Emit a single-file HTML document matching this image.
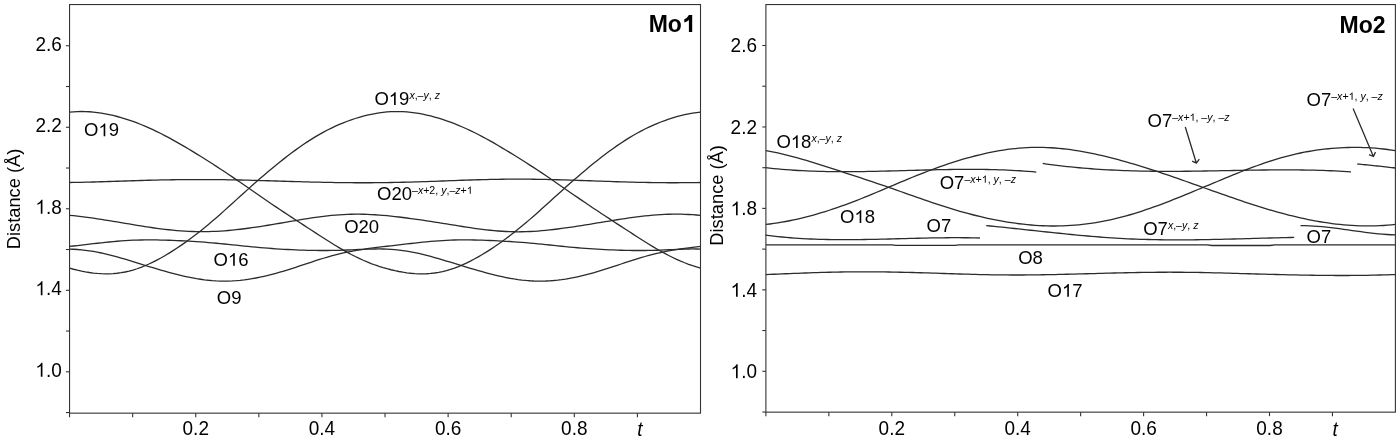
<!DOCTYPE html>
<html><head><meta charset="utf-8"><style>
html,body{margin:0;padding:0;background:#fff;width:1400px;height:440px;overflow:hidden}
svg{display:block;will-change:transform}
text{font-family:"Liberation Sans",sans-serif;fill:#000}
.tk{font-size:19px}
.lb{font-size:18.5px}
.sp{font-size:10.6px}
.ttl{font-size:23px;font-weight:bold}
.ax{font-size:18.3px}
.one{fill-opacity:0}
</style></head><body>
<svg width="1400" height="440" viewBox="0 0 1400 440">
<rect width="1400" height="440" fill="#fff"/>
<g fill="none" stroke="#2b2b2b" stroke-width="1.3" stroke-linejoin="round" stroke-linecap="butt">
<path d="M69.55 112.14 L73.52 111.80 L77.49 111.60 L81.45 111.52 L85.42 111.58 L89.39 111.77 L93.36 112.09 L97.33 112.54 L101.30 113.10 L105.26 113.79 L109.23 114.59 L113.20 115.49 L117.17 116.50 L121.14 117.61 L125.11 118.81 L129.07 120.10 L133.04 121.48 L137.01 122.95 L140.98 124.50 L144.95 126.14 L148.91 127.87 L152.88 129.68 L156.85 131.56 L160.82 133.53 L164.79 135.56 L168.76 137.67 L172.72 139.83 L176.69 142.06 L180.66 144.33 L184.63 146.65 L188.60 149.01 L192.57 151.40 L196.53 153.83 L200.50 156.29 L204.47 158.77 L208.44 161.28 L212.41 163.81 L216.37 166.37 L220.34 168.96 L224.31 171.58 L228.28 174.22 L232.25 176.89 L236.22 179.59 L240.18 182.30 L244.15 185.04 L248.12 187.78 L252.09 190.53 L256.06 193.28 L260.03 196.03 L263.99 198.76 L267.96 201.48 L271.93 204.18 L275.90 206.85 L279.87 209.51 L283.83 212.14 L287.80 214.76 L291.77 217.36 L295.74 219.96 L299.71 222.54 L303.68 225.13 L307.64 227.71 L311.61 230.29 L315.58 232.86 L319.55 235.43 L323.52 237.97 L327.49 240.50 L331.45 242.99 L335.42 245.43 L339.39 247.82 L343.36 250.13 L347.33 252.36 L351.29 254.50 L355.26 256.53 L359.23 258.45 L363.20 260.26 L367.17 261.95 L371.14 263.53 L375.10 264.99 L379.07 266.34 L383.04 267.58 L387.01 268.72 L390.98 269.75 L394.95 270.67 L398.91 271.49 L402.88 272.20 L406.85 272.79 L410.82 273.26 L414.79 273.60 L418.76 273.80 L422.72 273.85 L426.69 273.74 L430.66 273.47 L434.63 273.01 L438.60 272.38 L442.56 271.57 L446.53 270.57 L450.50 269.40 L454.47 268.05 L458.44 266.54 L462.41 264.87 L466.37 263.06 L470.34 261.11 L474.31 259.03 L478.28 256.83 L482.25 254.53 L486.22 252.11 L490.18 249.60 L494.15 246.99 L498.12 244.28 L502.09 241.48 L506.06 238.58 L510.02 235.60 L513.99 232.52 L517.96 229.35 L521.93 226.10 L525.90 222.77 L529.87 219.37 L533.83 215.91 L537.80 212.40 L541.77 208.85 L545.74 205.27 L549.71 201.68 L553.68 198.08 L557.64 194.48 L561.61 190.90 L565.58 187.34 L569.55 183.82 L573.52 180.33 L577.48 176.89 L581.45 173.49 L585.42 170.14 L589.39 166.84 L593.36 163.60 L597.33 160.43 L601.29 157.32 L605.26 154.28 L609.23 151.32 L613.20 148.44 L617.17 145.65 L621.14 142.96 L625.10 140.36 L629.07 137.87 L633.04 135.49 L637.01 133.22 L640.98 131.07 L644.94 129.03 L648.91 127.10 L652.88 125.29 L656.85 123.59 L660.82 122.00 L664.79 120.52 L668.75 119.15 L672.72 117.88 L676.69 116.72 L680.66 115.67 L684.63 114.73 L688.60 113.90 L692.56 113.19 L696.53 112.60 L700.50 112.14"/>
<path d="M69.55 268.16 L73.52 269.25 L77.49 270.22 L81.45 271.09 L85.42 271.86 L89.39 272.51 L93.36 273.04 L97.33 273.45 L101.30 273.72 L105.26 273.85 L109.23 273.82 L113.20 273.63 L117.17 273.26 L121.14 272.72 L125.11 272.00 L129.07 271.09 L133.04 270.01 L137.01 268.75 L140.98 267.32 L144.95 265.73 L148.91 263.98 L152.88 262.10 L156.85 260.08 L160.82 257.95 L164.79 255.69 L168.76 253.33 L172.72 250.87 L176.69 248.31 L180.66 245.65 L184.63 242.89 L188.60 240.04 L192.57 237.10 L196.53 234.07 L200.50 230.94 L204.47 227.74 L208.44 224.45 L212.41 221.08 L216.37 217.65 L220.34 214.16 L224.31 210.63 L228.28 207.07 L232.25 203.48 L236.22 199.88 L240.18 196.28 L244.15 192.69 L248.12 189.12 L252.09 185.58 L256.06 182.07 L260.03 178.60 L263.99 175.18 L267.96 171.80 L271.93 168.48 L275.90 165.22 L279.87 162.01 L283.83 158.87 L287.80 155.79 L291.77 152.79 L295.74 149.87 L299.71 147.03 L303.68 144.29 L307.64 141.65 L311.61 139.10 L315.58 136.67 L319.55 134.34 L323.52 132.13 L327.49 130.03 L331.45 128.05 L335.42 126.18 L339.39 124.43 L343.36 122.78 L347.33 121.25 L351.29 119.82 L355.26 118.50 L359.23 117.29 L363.20 116.18 L367.17 115.19 L371.14 114.30 L375.10 113.53 L379.07 112.88 L383.04 112.36 L387.01 111.95 L390.98 111.68 L394.95 111.54 L398.91 111.54 L402.88 111.66 L406.85 111.91 L410.82 112.30 L414.79 112.81 L418.76 113.43 L422.72 114.17 L426.69 115.03 L430.66 115.98 L434.63 117.04 L438.60 118.19 L442.56 119.44 L446.53 120.78 L450.50 122.20 L454.47 123.72 L458.44 125.31 L462.41 127.00 L466.37 128.76 L470.34 130.61 L474.31 132.54 L478.28 134.54 L482.25 136.61 L486.22 138.74 L490.18 140.94 L494.15 143.19 L498.12 145.49 L502.09 147.83 L506.06 150.20 L510.02 152.61 L513.99 155.06 L517.96 157.52 L521.93 160.02 L525.90 162.54 L529.87 165.09 L533.83 167.66 L537.80 170.27 L541.77 172.90 L545.74 175.55 L549.71 178.24 L553.68 180.94 L557.64 183.67 L561.61 186.41 L565.58 189.16 L569.55 191.91 L573.52 194.66 L577.48 197.40 L581.45 200.12 L585.42 202.83 L589.39 205.52 L593.36 208.18 L597.33 210.83 L601.29 213.45 L605.26 216.06 L609.23 218.66 L613.20 221.25 L617.17 223.84 L621.14 226.42 L625.10 229.00 L629.07 231.57 L633.04 234.14 L637.01 236.70 L640.98 239.24 L644.94 241.75 L648.91 244.22 L652.88 246.63 L656.85 248.98 L660.82 251.26 L664.79 253.44 L668.75 255.53 L672.72 257.50 L676.69 259.37 L680.66 261.12 L684.63 262.76 L688.60 264.28 L692.56 265.68 L696.53 266.98 L700.50 268.16"/>
<path d="M69.55 182.52 L73.52 182.45 L77.49 182.37 L81.45 182.29 L85.42 182.19 L89.39 182.09 L93.36 181.99 L97.33 181.87 L101.30 181.76 L105.26 181.64 L109.23 181.51 L113.20 181.38 L117.17 181.26 L121.14 181.13 L125.11 181.00 L129.07 180.87 L133.04 180.74 L137.01 180.62 L140.98 180.50 L144.95 180.38 L148.91 180.27 L152.88 180.16 L156.85 180.06 L160.82 179.97 L164.79 179.89 L168.76 179.81 L172.72 179.74 L176.69 179.68 L180.66 179.63 L184.63 179.59 L188.60 179.56 L192.57 179.54 L196.53 179.53 L200.50 179.53 L204.47 179.54 L208.44 179.55 L212.41 179.58 L216.37 179.62 L220.34 179.67 L224.31 179.72 L228.28 179.79 L232.25 179.86 L236.22 179.93 L240.18 180.02 L244.15 180.11 L248.12 180.21 L252.09 180.31 L256.06 180.42 L260.03 180.53 L263.99 180.64 L267.96 180.76 L271.93 180.88 L275.90 181.00 L279.87 181.12 L283.83 181.24 L287.80 181.36 L291.77 181.48 L295.74 181.59 L299.71 181.71 L303.68 181.82 L307.64 181.93 L311.61 182.03 L315.58 182.13 L319.55 182.22 L323.52 182.31 L327.49 182.39 L331.45 182.46 L335.42 182.53 L339.39 182.59 L343.36 182.64 L347.33 182.68 L351.29 182.72 L355.26 182.74 L359.23 182.76 L363.20 182.76 L367.17 182.76 L371.14 182.74 L375.10 182.72 L379.07 182.68 L383.04 182.64 L387.01 182.58 L390.98 182.52 L394.95 182.45 L398.91 182.36 L402.88 182.27 L406.85 182.17 L410.82 182.06 L414.79 181.94 L418.76 181.82 L422.72 181.69 L426.69 181.56 L430.66 181.42 L434.63 181.28 L438.60 181.13 L442.56 180.99 L446.53 180.84 L450.50 180.69 L454.47 180.55 L458.44 180.41 L462.41 180.27 L466.37 180.13 L470.34 180.00 L474.31 179.88 L478.28 179.77 L482.25 179.66 L486.22 179.56 L490.18 179.47 L494.15 179.39 L498.12 179.32 L502.09 179.27 L506.06 179.22 L510.02 179.19 L513.99 179.17 L517.96 179.16 L521.93 179.17 L525.90 179.18 L529.87 179.21 L533.83 179.25 L537.80 179.31 L541.77 179.37 L545.74 179.44 L549.71 179.53 L553.68 179.62 L557.64 179.73 L561.61 179.84 L565.58 179.95 L569.55 180.08 L573.52 180.21 L577.48 180.34 L581.45 180.48 L585.42 180.62 L589.39 180.76 L593.36 180.90 L597.33 181.04 L601.29 181.19 L605.26 181.33 L609.23 181.46 L613.20 181.60 L617.17 181.73 L621.14 181.85 L625.10 181.97 L629.07 182.08 L633.04 182.18 L637.01 182.28 L640.98 182.37 L644.94 182.45 L648.91 182.52 L652.88 182.58 L656.85 182.63 L660.82 182.67 L664.79 182.70 L668.75 182.73 L672.72 182.74 L676.69 182.73 L680.66 182.72 L684.63 182.70 L688.60 182.67 L692.56 182.63 L696.53 182.58 L700.50 182.52"/>
<path d="M69.55 215.33 L73.52 215.71 L77.49 216.13 L81.45 216.60 L85.42 217.10 L89.39 217.64 L93.36 218.20 L97.33 218.79 L101.30 219.40 L105.26 220.03 L109.23 220.67 L113.20 221.32 L117.17 221.98 L121.14 222.65 L125.11 223.31 L129.07 223.98 L133.04 224.64 L137.01 225.29 L140.98 225.93 L144.95 226.55 L148.91 227.16 L152.88 227.74 L156.85 228.30 L160.82 228.82 L164.79 229.31 L168.76 229.77 L172.72 230.18 L176.69 230.55 L180.66 230.87 L184.63 231.13 L188.60 231.35 L192.57 231.51 L196.53 231.62 L200.50 231.67 L204.47 231.66 L208.44 231.59 L212.41 231.47 L216.37 231.30 L220.34 231.07 L224.31 230.80 L228.28 230.48 L232.25 230.11 L236.22 229.70 L240.18 229.25 L244.15 228.77 L248.12 228.25 L252.09 227.70 L256.06 227.12 L260.03 226.52 L263.99 225.90 L267.96 225.26 L271.93 224.60 L275.90 223.94 L279.87 223.26 L283.83 222.57 L287.80 221.89 L291.77 221.20 L295.74 220.52 L299.71 219.85 L303.68 219.20 L307.64 218.57 L311.61 217.96 L315.58 217.38 L319.55 216.83 L323.52 216.33 L327.49 215.87 L331.45 215.46 L335.42 215.10 L339.39 214.80 L343.36 214.56 L347.33 214.37 L351.29 214.25 L355.26 214.19 L359.23 214.19 L363.20 214.25 L367.17 214.36 L371.14 214.53 L375.10 214.75 L379.07 215.03 L383.04 215.34 L387.01 215.70 L390.98 216.10 L394.95 216.53 L398.91 216.99 L402.88 217.48 L406.85 217.99 L410.82 218.52 L414.79 219.07 L418.76 219.64 L422.72 220.22 L426.69 220.82 L430.66 221.43 L434.63 222.05 L438.60 222.68 L442.56 223.31 L446.53 223.95 L450.50 224.59 L454.47 225.23 L458.44 225.87 L462.41 226.49 L466.37 227.11 L470.34 227.71 L474.31 228.28 L478.28 228.83 L482.25 229.35 L486.22 229.82 L490.18 230.26 L494.15 230.65 L498.12 230.98 L502.09 231.27 L506.06 231.49 L510.02 231.65 L513.99 231.75 L517.96 231.78 L521.93 231.75 L525.90 231.66 L529.87 231.51 L533.83 231.30 L537.80 231.03 L541.77 230.71 L545.74 230.35 L549.71 229.94 L553.68 229.49 L557.64 229.00 L561.61 228.48 L565.58 227.94 L569.55 227.37 L573.52 226.78 L577.48 226.17 L581.45 225.55 L585.42 224.92 L589.39 224.28 L593.36 223.63 L597.33 222.98 L601.29 222.33 L605.26 221.68 L609.23 221.03 L613.20 220.39 L617.17 219.76 L621.14 219.14 L625.10 218.54 L629.07 217.96 L633.04 217.40 L637.01 216.88 L640.98 216.39 L644.94 215.94 L648.91 215.53 L652.88 215.17 L656.85 214.86 L660.82 214.61 L664.79 214.41 L668.75 214.27 L672.72 214.19 L676.69 214.18 L680.66 214.22 L684.63 214.33 L688.60 214.49 L692.56 214.72 L696.53 215.00 L700.50 215.33"/>
<path d="M69.55 246.47 L73.52 246.01 L77.49 245.56 L81.45 245.10 L85.42 244.64 L89.39 244.18 L93.36 243.72 L97.33 243.27 L101.30 242.82 L105.26 242.39 L109.23 241.98 L113.20 241.60 L117.17 241.24 L121.14 240.93 L125.11 240.65 L129.07 240.41 L133.04 240.22 L137.01 240.08 L140.98 239.98 L144.95 239.91 L148.91 239.89 L152.88 239.91 L156.85 239.95 L160.82 240.03 L164.79 240.13 L168.76 240.26 L172.72 240.40 L176.69 240.56 L180.66 240.75 L184.63 240.95 L188.60 241.16 L192.57 241.40 L196.53 241.65 L200.50 241.93 L204.47 242.22 L208.44 242.54 L212.41 242.88 L216.37 243.23 L220.34 243.61 L224.31 244.00 L228.28 244.40 L232.25 244.81 L236.22 245.22 L240.18 245.64 L244.15 246.05 L248.12 246.45 L252.09 246.84 L256.06 247.21 L260.03 247.57 L263.99 247.91 L267.96 248.22 L271.93 248.52 L275.90 248.79 L279.87 249.05 L283.83 249.28 L287.80 249.50 L291.77 249.69 L295.74 249.87 L299.71 250.03 L303.68 250.17 L307.64 250.29 L311.61 250.39 L315.58 250.46 L319.55 250.51 L323.52 250.52 L327.49 250.51 L331.45 250.47 L335.42 250.40 L339.39 250.29 L343.36 250.16 L347.33 250.01 L351.29 249.84 L355.26 249.66 L359.23 249.49 L363.20 249.32 L367.17 249.17 L371.14 249.06 L375.10 248.99 L379.07 248.97 L383.04 249.02 L387.01 249.15 L390.98 249.36 L394.95 249.66 L398.91 250.05 L402.88 250.54 L406.85 251.13 L410.82 251.81 L414.79 252.58 L418.76 253.43 L422.72 254.36 L426.69 255.35 L430.66 256.41 L434.63 257.51 L438.60 258.66 L442.56 259.83 L446.53 261.03 L450.50 262.24 L454.47 263.46 L458.44 264.68 L462.41 265.90 L466.37 267.11 L470.34 268.30 L474.31 269.47 L478.28 270.62 L482.25 271.73 L486.22 272.82 L490.18 273.86 L494.15 274.86 L498.12 275.80 L502.09 276.69 L506.06 277.52 L510.02 278.27 L513.99 278.95 L517.96 279.54 L521.93 280.04 L525.90 280.45 L529.87 280.77 L533.83 280.98 L537.80 281.09 L541.77 281.10 L545.74 281.00 L549.71 280.81 L553.68 280.51 L557.64 280.11 L561.61 279.62 L565.58 279.04 L569.55 278.37 L573.52 277.62 L577.48 276.79 L581.45 275.89 L585.42 274.92 L589.39 273.88 L593.36 272.78 L597.33 271.63 L601.29 270.43 L605.26 269.20 L609.23 267.92 L613.20 266.63 L617.17 265.31 L621.14 264.00 L625.10 262.68 L629.07 261.38 L633.04 260.10 L637.01 258.85 L640.98 257.65 L644.94 256.50 L648.91 255.41 L652.88 254.37 L656.85 253.41 L660.82 252.51 L664.79 251.68 L668.75 250.92 L672.72 250.22 L676.69 249.57 L680.66 248.98 L684.63 248.42 L688.60 247.90 L692.56 247.41 L696.53 246.93 L700.50 246.47"/>
<path d="M69.55 249.08 L73.52 249.24 L77.49 249.50 L81.45 249.85 L85.42 250.29 L89.39 250.83 L93.36 251.46 L97.33 252.18 L101.30 252.99 L105.26 253.89 L109.23 254.85 L113.20 255.87 L117.17 256.96 L121.14 258.08 L125.11 259.24 L129.07 260.43 L133.04 261.64 L137.01 262.85 L140.98 264.07 L144.95 265.29 L148.91 266.51 L152.88 267.70 L156.85 268.89 L160.82 270.05 L164.79 271.18 L168.76 272.28 L172.72 273.34 L176.69 274.36 L180.66 275.34 L184.63 276.26 L188.60 277.11 L192.57 277.90 L196.53 278.62 L200.50 279.25 L204.47 279.80 L208.44 280.26 L212.41 280.62 L216.37 280.89 L220.34 281.05 L224.31 281.11 L228.28 281.06 L232.25 280.92 L236.22 280.67 L240.18 280.32 L244.15 279.88 L248.12 279.34 L252.09 278.72 L256.06 278.01 L260.03 277.22 L263.99 276.35 L267.96 275.41 L271.93 274.41 L275.90 273.34 L279.87 272.21 L283.83 271.04 L287.80 269.82 L291.77 268.56 L295.74 267.28 L299.71 265.97 L303.68 264.66 L307.64 263.34 L311.61 262.03 L315.58 260.73 L319.55 259.47 L323.52 258.25 L327.49 257.07 L331.45 255.95 L335.42 254.88 L339.39 253.88 L343.36 252.95 L347.33 252.09 L351.29 251.29 L355.26 250.56 L359.23 249.89 L363.20 249.27 L367.17 248.69 L371.14 248.16 L375.10 247.65 L379.07 247.17 L383.04 246.70 L387.01 246.24 L390.98 245.78 L394.95 245.33 L398.91 244.87 L402.88 244.41 L406.85 243.95 L410.82 243.50 L414.79 243.04 L418.76 242.61 L422.72 242.18 L426.69 241.79 L430.66 241.42 L434.63 241.08 L438.60 240.78 L442.56 240.53 L446.53 240.31 L450.50 240.15 L454.47 240.02 L458.44 239.94 L462.41 239.90 L466.37 239.90 L470.34 239.93 L474.31 239.99 L478.28 240.08 L482.25 240.19 L486.22 240.33 L490.18 240.48 L494.15 240.65 L498.12 240.84 L502.09 241.05 L506.06 241.28 L510.02 241.52 L513.99 241.79 L517.96 242.07 L521.93 242.38 L525.90 242.70 L529.87 243.05 L533.83 243.42 L537.80 243.80 L541.77 244.20 L545.74 244.60 L549.71 245.01 L553.68 245.43 L557.64 245.84 L561.61 246.25 L565.58 246.65 L569.55 247.03 L573.52 247.39 L577.48 247.74 L581.45 248.07 L585.42 248.37 L589.39 248.66 L593.36 248.92 L597.33 249.17 L601.29 249.39 L605.26 249.60 L609.23 249.78 L613.20 249.95 L617.17 250.10 L621.14 250.23 L625.10 250.34 L629.07 250.43 L633.04 250.49 L637.01 250.52 L640.98 250.52 L644.94 250.49 L648.91 250.44 L652.88 250.35 L656.85 250.23 L660.82 250.09 L664.79 249.93 L668.75 249.75 L672.72 249.57 L676.69 249.40 L680.66 249.24 L684.63 249.11 L688.60 249.01 L692.56 248.97 L696.53 248.99 L700.50 249.08"/>
<path d="M765.90 150.67 L769.86 151.36 L773.82 152.12 L777.78 152.94 L781.74 153.83 L785.70 154.77 L789.65 155.76 L793.61 156.81 L797.57 157.89 L801.53 159.02 L805.49 160.18 L809.45 161.37 L813.41 162.59 L817.37 163.83 L821.33 165.08 L825.29 166.34 L829.25 167.61 L833.21 168.90 L837.16 170.18 L841.12 171.47 L845.08 172.76 L849.04 174.06 L853.00 175.35 L856.96 176.66 L860.92 177.96 L864.88 179.28 L868.84 180.60 L872.80 181.93 L876.76 183.26 L880.71 184.61 L884.67 185.97 L888.63 187.34 L892.59 188.71 L896.55 190.10 L900.51 191.49 L904.47 192.89 L908.43 194.28 L912.39 195.68 L916.35 197.08 L920.31 198.46 L924.26 199.84 L928.22 201.20 L932.18 202.55 L936.14 203.88 L940.10 205.18 L944.06 206.46 L948.02 207.71 L951.98 208.92 L955.94 210.11 L959.90 211.26 L963.86 212.38 L967.82 213.46 L971.77 214.50 L975.73 215.50 L979.69 216.47 L983.65 217.39 L987.61 218.27 L991.57 219.11 L995.53 219.91 L999.49 220.67 L1003.45 221.38 L1007.41 222.04 L1011.37 222.66 L1015.32 223.23 L1019.28 223.75 L1023.24 224.22 L1027.20 224.64 L1031.16 225.01 L1035.12 225.32 L1039.08 225.57 L1043.04 225.77 L1047.00 225.90 L1050.96 225.98 L1054.92 226.00 L1058.87 225.96 L1062.83 225.86 L1066.79 225.69 L1070.75 225.47 L1074.71 225.18 L1078.67 224.83 L1082.63 224.42 L1086.59 223.95 L1090.55 223.41 L1094.51 222.81 L1098.47 222.16 L1102.43 221.44 L1106.38 220.66 L1110.34 219.81 L1114.30 218.92 L1118.26 217.96 L1122.22 216.94 L1126.18 215.87 L1130.14 214.75 L1134.10 213.57 L1138.06 212.34 L1142.02 211.06 L1145.98 209.74 L1149.93 208.38 L1153.89 206.97 L1157.85 205.53 L1161.81 204.06 L1165.77 202.55 L1169.73 201.02 L1173.69 199.46 L1177.65 197.88 L1181.61 196.28 L1185.57 194.67 L1189.53 193.04 L1193.48 191.40 L1197.44 189.75 L1201.40 188.10 L1205.36 186.45 L1209.32 184.79 L1213.28 183.13 L1217.24 181.48 L1221.20 179.83 L1225.16 178.19 L1229.12 176.56 L1233.08 174.95 L1237.04 173.35 L1240.99 171.77 L1244.95 170.22 L1248.91 168.69 L1252.87 167.20 L1256.83 165.74 L1260.79 164.32 L1264.75 162.95 L1268.71 161.62 L1272.67 160.34 L1276.63 159.11 L1280.59 157.94 L1284.54 156.83 L1288.50 155.78 L1292.46 154.80 L1296.42 153.87 L1300.38 153.01 L1304.34 152.22 L1308.30 151.49 L1312.26 150.82 L1316.22 150.22 L1320.18 149.67 L1324.14 149.19 L1328.09 148.76 L1332.05 148.40 L1336.01 148.09 L1339.97 147.84 L1343.93 147.64 L1347.89 147.51 L1351.85 147.43 L1355.81 147.41 L1359.77 147.44 L1363.73 147.54 L1367.69 147.70 L1371.65 147.93 L1375.60 148.21 L1379.56 148.57 L1383.52 148.99 L1387.48 149.48 L1391.44 150.04 L1395.40 150.67"/>
<path d="M765.90 224.46 L769.86 223.99 L773.82 223.46 L777.78 222.86 L781.74 222.21 L785.70 221.50 L789.65 220.74 L793.61 219.91 L797.57 219.04 L801.53 218.11 L805.49 217.13 L809.45 216.10 L813.41 215.02 L817.37 213.90 L821.33 212.72 L825.29 211.51 L829.25 210.25 L833.21 208.94 L837.16 207.60 L841.12 206.21 L845.08 204.78 L849.04 203.32 L853.00 201.82 L856.96 200.29 L860.92 198.73 L864.88 197.14 L868.84 195.53 L872.80 193.89 L876.76 192.24 L880.71 190.58 L884.67 188.90 L888.63 187.22 L892.59 185.54 L896.55 183.86 L900.51 182.19 L904.47 180.53 L908.43 178.88 L912.39 177.26 L916.35 175.65 L920.31 174.08 L924.26 172.53 L928.22 171.00 L932.18 169.52 L936.14 168.06 L940.10 166.65 L944.06 165.27 L948.02 163.93 L951.98 162.63 L955.94 161.37 L959.90 160.16 L963.86 158.99 L967.82 157.86 L971.77 156.78 L975.73 155.75 L979.69 154.77 L983.65 153.84 L987.61 152.97 L991.57 152.15 L995.53 151.39 L999.49 150.69 L1003.45 150.05 L1007.41 149.47 L1011.37 148.97 L1015.32 148.53 L1019.28 148.16 L1023.24 147.86 L1027.20 147.63 L1031.16 147.47 L1035.12 147.39 L1039.08 147.37 L1043.04 147.43 L1047.00 147.56 L1050.96 147.76 L1054.92 148.02 L1058.87 148.36 L1062.83 148.75 L1066.79 149.21 L1070.75 149.72 L1074.71 150.29 L1078.67 150.92 L1082.63 151.60 L1086.59 152.33 L1090.55 153.10 L1094.51 153.92 L1098.47 154.79 L1102.43 155.69 L1106.38 156.64 L1110.34 157.62 L1114.30 158.64 L1118.26 159.69 L1122.22 160.78 L1126.18 161.89 L1130.14 163.04 L1134.10 164.21 L1138.06 165.41 L1142.02 166.63 L1145.98 167.88 L1149.93 169.15 L1153.89 170.43 L1157.85 171.74 L1161.81 173.06 L1165.77 174.39 L1169.73 175.74 L1173.69 177.10 L1177.65 178.48 L1181.61 179.85 L1185.57 181.24 L1189.53 182.63 L1193.48 184.03 L1197.44 185.43 L1201.40 186.84 L1205.36 188.24 L1209.32 189.64 L1213.28 191.05 L1217.24 192.44 L1221.20 193.84 L1225.16 195.23 L1229.12 196.61 L1233.08 197.98 L1237.04 199.33 L1240.99 200.68 L1244.95 202.01 L1248.91 203.32 L1252.87 204.61 L1256.83 205.88 L1260.79 207.12 L1264.75 208.34 L1268.71 209.53 L1272.67 210.70 L1276.63 211.82 L1280.59 212.92 L1284.54 213.98 L1288.50 215.01 L1292.46 215.99 L1296.42 216.94 L1300.38 217.85 L1304.34 218.71 L1308.30 219.54 L1312.26 220.32 L1316.22 221.05 L1320.18 221.74 L1324.14 222.38 L1328.09 222.98 L1332.05 223.52 L1336.01 224.02 L1339.97 224.46 L1343.93 224.85 L1347.89 225.18 L1351.85 225.46 L1355.81 225.68 L1359.77 225.84 L1363.73 225.93 L1367.69 225.97 L1371.65 225.95 L1375.60 225.86 L1379.56 225.71 L1383.52 225.49 L1387.48 225.21 L1391.44 224.87 L1395.40 224.46"/>
<path d="M765.90 274.53 L769.86 274.38 L773.82 274.23 L777.78 274.08 L781.74 273.92 L785.70 273.76 L789.65 273.60 L793.61 273.44 L797.57 273.28 L801.53 273.13 L805.49 272.98 L809.45 272.83 L813.41 272.69 L817.37 272.56 L821.33 272.44 L825.29 272.33 L829.25 272.23 L833.21 272.14 L837.16 272.06 L841.12 271.99 L845.08 271.93 L849.04 271.88 L853.00 271.85 L856.96 271.83 L860.92 271.81 L864.88 271.81 L868.84 271.82 L872.80 271.84 L876.76 271.87 L880.71 271.91 L884.67 271.96 L888.63 272.02 L892.59 272.08 L896.55 272.15 L900.51 272.24 L904.47 272.32 L908.43 272.42 L912.39 272.52 L916.35 272.62 L920.31 272.73 L924.26 272.85 L928.22 272.97 L932.18 273.09 L936.14 273.22 L940.10 273.35 L944.06 273.48 L948.02 273.60 L951.98 273.73 L955.94 273.86 L959.90 273.98 L963.86 274.11 L967.82 274.22 L971.77 274.33 L975.73 274.44 L979.69 274.54 L983.65 274.63 L987.61 274.71 L991.57 274.78 L995.53 274.84 L999.49 274.89 L1003.45 274.94 L1007.41 274.97 L1011.37 274.99 L1015.32 274.99 L1019.28 274.99 L1023.24 274.98 L1027.20 274.95 L1031.16 274.92 L1035.12 274.88 L1039.08 274.82 L1043.04 274.76 L1047.00 274.69 L1050.96 274.62 L1054.92 274.54 L1058.87 274.45 L1062.83 274.36 L1066.79 274.26 L1070.75 274.16 L1074.71 274.06 L1078.67 273.95 L1082.63 273.85 L1086.59 273.74 L1090.55 273.63 L1094.51 273.53 L1098.47 273.42 L1102.43 273.32 L1106.38 273.21 L1110.34 273.11 L1114.30 273.01 L1118.26 272.92 L1122.22 272.83 L1126.18 272.74 L1130.14 272.66 L1134.10 272.58 L1138.06 272.51 L1142.02 272.45 L1145.98 272.39 L1149.93 272.34 L1153.89 272.30 L1157.85 272.27 L1161.81 272.24 L1165.77 272.23 L1169.73 272.22 L1173.69 272.23 L1177.65 272.24 L1181.61 272.27 L1185.57 272.30 L1189.53 272.34 L1193.48 272.39 L1197.44 272.45 L1201.40 272.52 L1205.36 272.60 L1209.32 272.69 L1213.28 272.78 L1217.24 272.87 L1221.20 272.97 L1225.16 273.08 L1229.12 273.19 L1233.08 273.30 L1237.04 273.42 L1240.99 273.53 L1244.95 273.65 L1248.91 273.76 L1252.87 273.88 L1256.83 273.99 L1260.79 274.10 L1264.75 274.21 L1268.71 274.32 L1272.67 274.42 L1276.63 274.52 L1280.59 274.62 L1284.54 274.71 L1288.50 274.80 L1292.46 274.89 L1296.42 274.97 L1300.38 275.05 L1304.34 275.12 L1308.30 275.19 L1312.26 275.25 L1316.22 275.31 L1320.18 275.36 L1324.14 275.40 L1328.09 275.44 L1332.05 275.47 L1336.01 275.49 L1339.97 275.50 L1343.93 275.50 L1347.89 275.49 L1351.85 275.47 L1355.81 275.44 L1359.77 275.40 L1363.73 275.34 L1367.69 275.28 L1371.65 275.20 L1375.60 275.12 L1379.56 275.02 L1383.52 274.91 L1387.48 274.79 L1391.44 274.66 L1395.40 274.53"/>
<path d="M765.50 167.68 L769.60 168.14 L773.71 168.56 L777.81 168.96 L781.91 169.32 L786.02 169.65 L790.12 169.95 L794.22 170.23 L798.32 170.48 L802.43 170.70 L806.53 170.89 L810.63 171.06 L814.74 171.21 L818.84 171.34 L822.94 171.44 L827.05 171.53 L831.15 171.59 L835.25 171.64 L839.35 171.67 L843.46 171.68 L847.56 171.67 L851.66 171.66 L855.77 171.63 L859.87 171.58 L863.97 171.53 L868.08 171.46 L872.18 171.39 L876.28 171.31 L880.38 171.22 L884.49 171.12 L888.59 171.02 L892.69 170.91 L896.80 170.80 L900.90 170.69 L905.00 170.57 L909.11 170.46 L913.21 170.35 L917.31 170.23 L921.42 170.12 L925.52 170.01 L929.62 169.91 L933.72 169.82 L937.83 169.72 L941.93 169.64 L946.03 169.57 L950.14 169.50 L954.24 169.44 L958.34 169.40 L962.45 169.37 L966.55 169.35 L970.65 169.35 L974.75 169.36 L978.86 169.39 L982.96 169.43 L987.06 169.49 L991.17 169.58 L995.27 169.68 L999.37 169.80 L1003.48 169.95 L1007.58 170.12 L1011.68 170.31 L1015.78 170.53 L1019.89 170.77 L1023.99 171.05 L1028.09 171.35 L1032.20 171.68 L1036.30 172.04"/>
<path d="M1042.70 163.47 L1046.76 164.04 L1050.81 164.59 L1054.87 165.11 L1058.93 165.61 L1062.98 166.08 L1067.04 166.53 L1071.10 166.95 L1075.15 167.35 L1079.21 167.73 L1083.27 168.09 L1087.32 168.42 L1091.38 168.74 L1095.44 169.03 L1099.49 169.30 L1103.55 169.56 L1107.61 169.79 L1111.66 170.01 L1115.72 170.21 L1119.78 170.39 L1123.83 170.55 L1127.89 170.70 L1131.94 170.83 L1136.00 170.94 L1140.06 171.04 L1144.11 171.13 L1148.17 171.20 L1152.23 171.25 L1156.28 171.30 L1160.34 171.33 L1164.40 171.34 L1168.45 171.35 L1172.51 171.34 L1176.57 171.33 L1180.62 171.30 L1184.68 171.27 L1188.74 171.23 L1192.79 171.18 L1196.85 171.13 L1200.91 171.07 L1204.96 171.01 L1209.02 170.94 L1213.08 170.86 L1217.13 170.79 L1221.19 170.71 L1225.25 170.64 L1229.30 170.56 L1233.36 170.48 L1237.42 170.41 L1241.47 170.33 L1245.53 170.26 L1249.59 170.20 L1253.64 170.13 L1257.70 170.08 L1261.76 170.02 L1265.81 169.98 L1269.87 169.94 L1273.92 169.91 L1277.98 169.89 L1282.04 169.88 L1286.09 169.88 L1290.15 169.89 L1294.21 169.91 L1298.26 169.94 L1302.32 169.99 L1306.38 170.05 L1310.43 170.13 L1314.49 170.22 L1318.55 170.33 L1322.60 170.46 L1326.66 170.60 L1330.72 170.77 L1334.77 170.95 L1338.83 171.15 L1342.89 171.38 L1346.94 171.62 L1351.00 171.89"/>
<path d="M1357.30 164.00 L1359.31 164.19 L1361.32 164.38 L1363.33 164.58 L1365.34 164.77 L1367.35 164.97 L1369.36 165.17 L1371.37 165.38 L1373.38 165.58 L1375.39 165.79 L1377.41 166.00 L1379.42 166.21 L1381.43 166.43 L1383.44 166.65 L1385.45 166.87 L1387.46 167.09 L1389.47 167.31 L1391.48 167.54 L1393.49 167.77 L1395.50 168.00"/>
<path d="M765.50 235.15 L769.62 235.67 L773.75 236.15 L777.87 236.60 L781.99 237.01 L786.12 237.39 L790.24 237.73 L794.36 238.04 L798.48 238.32 L802.61 238.57 L806.73 238.79 L810.85 238.98 L814.98 239.14 L819.10 239.29 L823.22 239.40 L827.35 239.49 L831.47 239.57 L835.59 239.62 L839.72 239.65 L843.84 239.66 L847.96 239.66 L852.08 239.64 L856.21 239.61 L860.33 239.57 L864.45 239.51 L868.58 239.44 L872.70 239.37 L876.82 239.28 L880.95 239.19 L885.07 239.09 L889.19 238.99 L893.32 238.88 L897.44 238.77 L901.56 238.66 L905.68 238.55 L909.81 238.44 L913.93 238.34 L918.05 238.24 L922.18 238.14 L926.30 238.05 L930.42 237.97 L934.55 237.90 L938.67 237.83 L942.79 237.78 L946.92 237.74 L951.04 237.71 L955.16 237.70 L959.28 237.71 L963.41 237.73 L967.53 237.77 L971.65 237.83 L975.78 237.91 L979.90 238.01"/>
<path d="M986.20 225.59 L990.25 225.99 L994.31 226.39 L998.36 226.79 L1002.41 227.21 L1006.46 227.63 L1010.52 228.06 L1014.57 228.49 L1018.62 228.92 L1022.67 229.36 L1026.73 229.80 L1030.78 230.24 L1034.83 230.68 L1038.88 231.12 L1042.94 231.56 L1046.99 231.99 L1051.04 232.42 L1055.09 232.85 L1059.15 233.27 L1063.20 233.69 L1067.25 234.10 L1071.31 234.50 L1075.36 234.89 L1079.41 235.28 L1083.46 235.65 L1087.52 236.01 L1091.57 236.36 L1095.62 236.69 L1099.67 237.02 L1103.73 237.32 L1107.78 237.61 L1111.83 237.89 L1115.88 238.15 L1119.94 238.38 L1123.99 238.60 L1128.04 238.80 L1132.09 238.98 L1136.15 239.15 L1140.20 239.29 L1144.25 239.41 L1148.31 239.52 L1152.36 239.62 L1156.41 239.69 L1160.46 239.75 L1164.52 239.80 L1168.57 239.83 L1172.62 239.86 L1176.67 239.86 L1180.73 239.86 L1184.78 239.84 L1188.83 239.82 L1192.88 239.78 L1196.94 239.74 L1200.99 239.68 L1205.04 239.62 L1209.09 239.55 L1213.15 239.47 L1217.20 239.39 L1221.25 239.30 L1225.31 239.20 L1229.36 239.10 L1233.41 239.00 L1237.46 238.89 L1241.52 238.78 L1245.57 238.67 L1249.62 238.56 L1253.67 238.45 L1257.73 238.34 L1261.78 238.22 L1265.83 238.11 L1269.88 238.00 L1273.94 237.89 L1277.99 237.79 L1282.04 237.69 L1286.09 237.59 L1290.15 237.50 L1294.20 237.41"/>
<path d="M1300.50 225.70 L1304.82 225.71 L1309.14 225.82 L1313.45 226.03 L1317.77 226.32 L1322.09 226.69 L1326.41 227.12 L1330.73 227.61 L1335.05 228.14 L1339.36 228.71 L1343.68 229.30 L1348.00 229.91 L1352.32 230.52 L1356.64 231.14 L1360.95 231.73 L1365.27 232.31 L1369.59 232.86 L1373.91 233.36 L1378.23 233.81 L1382.55 234.20 L1386.86 234.52 L1391.18 234.75 L1395.50 234.90"/>
<path d="M765.9 244.85 L892 244.9 L896 245.4 L955 245.4 L959 244.9 L1207 244.9 L1212 245.5 L1270 245.5 L1275 244.9 L1395.4 244.8"/>

<path d="M1185.3 127 L1196.4 163.2 M1192.2 161.2 L1196.4 163.2 L1199.3 159.1" />
<path d="M1353.1 108.5 L1373.4 156.5 M1369.0 154.7 L1373.4 156.5 L1375.5 152.1" />

</g>
<rect x="69.55" y="4.55" width="630.95" height="408.60" fill="none" stroke="#333" stroke-width="1.1"/>
<line x1="65.95" y1="45.75" x2="69.55" y2="45.75" stroke="#333" stroke-width="1.1"/>
<line x1="65.95" y1="86.51" x2="69.55" y2="86.51" stroke="#333" stroke-width="1.1"/>
<line x1="65.95" y1="127.26" x2="69.55" y2="127.26" stroke="#333" stroke-width="1.1"/>
<line x1="65.95" y1="168.02" x2="69.55" y2="168.02" stroke="#333" stroke-width="1.1"/>
<line x1="65.95" y1="208.78" x2="69.55" y2="208.78" stroke="#333" stroke-width="1.1"/>
<line x1="65.95" y1="249.53" x2="69.55" y2="249.53" stroke="#333" stroke-width="1.1"/>
<line x1="65.95" y1="290.29" x2="69.55" y2="290.29" stroke="#333" stroke-width="1.1"/>
<line x1="65.95" y1="331.04" x2="69.55" y2="331.04" stroke="#333" stroke-width="1.1"/>
<line x1="65.95" y1="371.80" x2="69.55" y2="371.80" stroke="#333" stroke-width="1.1"/>
<line x1="65.95" y1="412.56" x2="69.55" y2="412.56" stroke="#333" stroke-width="1.1"/>
<text transform="translate(61.80 50.65) scale(1 1.06)" text-anchor="end" class="tk">2.6</text>
<text transform="translate(61.80 132.16) scale(1 1.06)" text-anchor="end" class="tk">2.2</text>
<text transform="translate(61.80 213.68) scale(1 1.06)" text-anchor="end" class="tk"><tspan class="one">1</tspan>.8</text>
<text transform="translate(61.80 295.19) scale(1 1.06)" text-anchor="end" class="tk"><tspan class="one">1</tspan>.4</text>
<text transform="translate(61.80 376.70) scale(1 1.06)" text-anchor="end" class="tk"><tspan class="one">1</tspan>.0</text>
<line x1="69.55" y1="413.15" x2="69.55" y2="417.15" stroke="#333" stroke-width="1.1"/>
<line x1="132.65" y1="413.15" x2="132.65" y2="417.15" stroke="#333" stroke-width="1.1"/>
<line x1="195.74" y1="413.15" x2="195.74" y2="417.15" stroke="#333" stroke-width="1.1"/>
<line x1="258.84" y1="413.15" x2="258.84" y2="417.15" stroke="#333" stroke-width="1.1"/>
<line x1="321.93" y1="413.15" x2="321.93" y2="417.15" stroke="#333" stroke-width="1.1"/>
<line x1="385.03" y1="413.15" x2="385.03" y2="417.15" stroke="#333" stroke-width="1.1"/>
<line x1="448.12" y1="413.15" x2="448.12" y2="417.15" stroke="#333" stroke-width="1.1"/>
<line x1="511.22" y1="413.15" x2="511.22" y2="417.15" stroke="#333" stroke-width="1.1"/>
<line x1="574.31" y1="413.15" x2="574.31" y2="417.15" stroke="#333" stroke-width="1.1"/>
<line x1="637.40" y1="413.15" x2="637.40" y2="417.15" stroke="#333" stroke-width="1.1"/>
<text transform="translate(195.74 435) scale(1 1.1)" text-anchor="middle" class="tk">0.2</text>
<text transform="translate(321.93 435) scale(1 1.1)" text-anchor="middle" class="tk">0.4</text>
<text transform="translate(448.12 435) scale(1 1.1)" text-anchor="middle" class="tk">0.6</text>
<text transform="translate(574.31 435) scale(1 1.1)" text-anchor="middle" class="tk">0.8</text>
<text transform="translate(640.00 435.9) scale(1 1.1)" text-anchor="middle" class="tk" font-size="20" font-style="italic">t</text>
<rect x="765.90" y="4.55" width="629.50" height="407.60" fill="none" stroke="#333" stroke-width="1.1"/>
<line x1="762.30" y1="45.50" x2="765.90" y2="45.50" stroke="#333" stroke-width="1.1"/>
<line x1="762.30" y1="86.22" x2="765.90" y2="86.22" stroke="#333" stroke-width="1.1"/>
<line x1="762.30" y1="126.95" x2="765.90" y2="126.95" stroke="#333" stroke-width="1.1"/>
<line x1="762.30" y1="167.68" x2="765.90" y2="167.68" stroke="#333" stroke-width="1.1"/>
<line x1="762.30" y1="208.40" x2="765.90" y2="208.40" stroke="#333" stroke-width="1.1"/>
<line x1="762.30" y1="249.13" x2="765.90" y2="249.13" stroke="#333" stroke-width="1.1"/>
<line x1="762.30" y1="289.85" x2="765.90" y2="289.85" stroke="#333" stroke-width="1.1"/>
<line x1="762.30" y1="330.57" x2="765.90" y2="330.57" stroke="#333" stroke-width="1.1"/>
<line x1="762.30" y1="371.30" x2="765.90" y2="371.30" stroke="#333" stroke-width="1.1"/>
<line x1="762.30" y1="412.02" x2="765.90" y2="412.02" stroke="#333" stroke-width="1.1"/>
<text transform="translate(757.00 52.40) scale(1 1.06)" text-anchor="end" class="tk">2.6</text>
<text transform="translate(757.00 133.85) scale(1 1.06)" text-anchor="end" class="tk">2.2</text>
<text transform="translate(757.00 215.30) scale(1 1.06)" text-anchor="end" class="tk"><tspan class="one">1</tspan>.8</text>
<text transform="translate(757.00 296.75) scale(1 1.06)" text-anchor="end" class="tk"><tspan class="one">1</tspan>.4</text>
<text transform="translate(757.00 378.20) scale(1 1.06)" text-anchor="end" class="tk"><tspan class="one">1</tspan>.0</text>
<line x1="765.90" y1="412.15" x2="765.90" y2="416.15" stroke="#333" stroke-width="1.1"/>
<line x1="828.85" y1="412.15" x2="828.85" y2="416.15" stroke="#333" stroke-width="1.1"/>
<line x1="891.80" y1="412.15" x2="891.80" y2="416.15" stroke="#333" stroke-width="1.1"/>
<line x1="954.75" y1="412.15" x2="954.75" y2="416.15" stroke="#333" stroke-width="1.1"/>
<line x1="1017.70" y1="412.15" x2="1017.70" y2="416.15" stroke="#333" stroke-width="1.1"/>
<line x1="1080.65" y1="412.15" x2="1080.65" y2="416.15" stroke="#333" stroke-width="1.1"/>
<line x1="1143.60" y1="412.15" x2="1143.60" y2="416.15" stroke="#333" stroke-width="1.1"/>
<line x1="1206.55" y1="412.15" x2="1206.55" y2="416.15" stroke="#333" stroke-width="1.1"/>
<line x1="1269.50" y1="412.15" x2="1269.50" y2="416.15" stroke="#333" stroke-width="1.1"/>
<line x1="1332.45" y1="412.15" x2="1332.45" y2="416.15" stroke="#333" stroke-width="1.1"/>
<text transform="translate(891.80 435) scale(1 1.1)" text-anchor="middle" class="tk">0.2</text>
<text transform="translate(1017.70 435) scale(1 1.1)" text-anchor="middle" class="tk">0.4</text>
<text transform="translate(1143.60 435) scale(1 1.1)" text-anchor="middle" class="tk">0.6</text>
<text transform="translate(1269.50 435) scale(1 1.1)" text-anchor="middle" class="tk">0.8</text>
<text transform="translate(1335.05 435.9) scale(1 1.1)" text-anchor="middle" class="tk" font-size="20" font-style="italic">t</text>
<text x="84.00" y="136.20" class="lb">O<tspan class="one">1</tspan>9</text>
<text x="374.40" y="105.10" class="lb">O<tspan class="one">1</tspan>9<tspan class="sp" dy="-6.20"><tspan font-style="italic">x</tspan>,–<tspan font-style="italic">y</tspan>, <tspan font-style="italic">z</tspan></tspan></text>
<text x="377.00" y="200.00" class="lb">O20<tspan class="sp" dy="-6.20">–<tspan font-style="italic">x</tspan>+2, <tspan font-style="italic">y</tspan>,–<tspan font-style="italic">z</tspan>+<tspan class="one">1</tspan></tspan></text>
<text x="344.20" y="233.30" class="lb">O20</text>
<text x="213.50" y="265.70" class="lb">O<tspan class="one">1</tspan>6</text>
<text x="216.80" y="304.00" class="lb">O9</text>
<text x="776.40" y="148.00" class="lb">O<tspan class="one">1</tspan>8<tspan class="sp" dy="-6.20"><tspan font-style="italic">x</tspan>,–<tspan font-style="italic">y</tspan>, <tspan font-style="italic">z</tspan></tspan></text>
<text x="840.00" y="223.00" class="lb">O<tspan class="one">1</tspan>8</text>
<text x="939.70" y="189.00" class="lb">O7<tspan class="sp" dy="-6.20">–<tspan font-style="italic">x</tspan>+<tspan class="one">1</tspan>, <tspan font-style="italic">y</tspan>, –<tspan font-style="italic">z</tspan></tspan></text>
<text x="1147.50" y="127.00" class="lb">O7<tspan class="sp" dy="-6.20">–<tspan font-style="italic">x</tspan>+<tspan class="one">1</tspan>, –<tspan font-style="italic">y</tspan>, –<tspan font-style="italic">z</tspan></tspan></text>
<text x="1306.50" y="105.90" class="lb">O7<tspan class="sp" dy="-6.20">–<tspan font-style="italic">x</tspan>+<tspan class="one">1</tspan>, <tspan font-style="italic">y</tspan>, –<tspan font-style="italic">z</tspan></tspan></text>
<text x="926.50" y="231.80" class="lb">O7</text>
<text x="1143.20" y="235.00" class="lb">O7<tspan class="sp" dy="-6.20"><tspan font-style="italic">x</tspan>,–<tspan font-style="italic">y</tspan>, <tspan font-style="italic">z</tspan></tspan></text>
<text x="1306.50" y="242.50" class="lb">O7</text>
<text x="1018.20" y="263.70" class="lb">O8</text>
<text x="1047.60" y="296.80" class="lb">O<tspan class="one">1</tspan>7</text>
<text x="648.7" y="32" class="ttl">Mo</text>
<path d="M692.2 14.9 L692.2 31.9 L688.9 31.9 L688.9 19.9 Q686.9 21.6 684.3 22.6 L684.3 19.3 Q687.3 17.9 688.9 14.9 Z" fill="#000"/>
<text x="1339.6" y="33" class="ttl">Mo2</text>
<text class="ax" transform="translate(20.3 198.95) rotate(-90) scale(1 1.05)" text-anchor="middle">Distance (Å)</text>
<text class="ax" transform="translate(723.1 195.4) rotate(-90) scale(1 1.05)" text-anchor="middle">Distance (Å)</text>
<g fill="#000">
<path transform="translate(61.80 213.68) scale(1 1.06)" d="M-19.34 0.00 L-21.01 0.00 L-21.01 -10.19 Q-21.61 -9.64 -22.59 -9.08 Q-23.58 -8.53 -24.35 -8.26 L-24.35 -9.80 Q-22.95 -10.43 -21.92 -11.33 Q-20.88 -12.23 -20.44 -13.07 L-19.34 -13.07 Z"/>
<path transform="translate(61.80 295.19) scale(1 1.06)" d="M-19.34 0.00 L-21.01 0.00 L-21.01 -10.19 Q-21.61 -9.64 -22.59 -9.08 Q-23.58 -8.53 -24.35 -8.26 L-24.35 -9.80 Q-22.95 -10.43 -21.92 -11.33 Q-20.88 -12.23 -20.44 -13.07 L-19.34 -13.07 Z"/>
<path transform="translate(61.80 376.70) scale(1 1.06)" d="M-19.34 0.00 L-21.01 0.00 L-21.01 -10.19 Q-21.61 -9.64 -22.59 -9.08 Q-23.58 -8.53 -24.35 -8.26 L-24.35 -9.80 Q-22.95 -10.43 -21.92 -11.33 Q-20.88 -12.23 -20.44 -13.07 L-19.34 -13.07 Z"/>
<path transform="translate(757.00 215.30) scale(1 1.06)" d="M-19.34 0.00 L-21.01 0.00 L-21.01 -10.19 Q-21.61 -9.64 -22.59 -9.08 Q-23.58 -8.53 -24.35 -8.26 L-24.35 -9.80 Q-22.95 -10.43 -21.92 -11.33 Q-20.88 -12.23 -20.44 -13.07 L-19.34 -13.07 Z"/>
<path transform="translate(757.00 296.75) scale(1 1.06)" d="M-19.34 0.00 L-21.01 0.00 L-21.01 -10.19 Q-21.61 -9.64 -22.59 -9.08 Q-23.58 -8.53 -24.35 -8.26 L-24.35 -9.80 Q-22.95 -10.43 -21.92 -11.33 Q-20.88 -12.23 -20.44 -13.07 L-19.34 -13.07 Z"/>
<path transform="translate(757.00 378.20) scale(1 1.06)" d="M-19.34 0.00 L-21.01 0.00 L-21.01 -10.19 Q-21.61 -9.64 -22.59 -9.08 Q-23.58 -8.53 -24.35 -8.26 L-24.35 -9.80 Q-22.95 -10.43 -21.92 -11.33 Q-20.88 -12.23 -20.44 -13.07 L-19.34 -13.07 Z"/>
<path d="M105.28 136.20 L103.66 136.20 L103.66 126.28 Q103.07 126.82 102.11 127.35 Q101.15 127.89 100.41 128.16 L100.41 126.65 Q101.76 126.04 102.77 125.17 Q103.78 124.29 104.21 123.47 L105.28 123.47 Z"/>
<path d="M395.68 105.10 L394.06 105.10 L394.06 95.18 Q393.47 95.72 392.51 96.25 Q391.55 96.79 390.81 97.06 L390.81 95.55 Q392.16 94.94 393.17 94.07 Q394.18 93.19 394.61 92.37 L395.68 92.37 Z"/>
<path d="M470.71 193.80 L469.78 193.80 L469.78 188.12 Q469.45 188.42 468.90 188.73 Q468.35 189.04 467.92 189.19 L467.92 188.33 Q468.70 187.98 469.28 187.48 Q469.86 186.98 470.10 186.51 L470.71 186.51 Z"/>
<path d="M234.78 265.70 L233.16 265.70 L233.16 255.78 Q232.57 256.32 231.61 256.85 Q230.65 257.39 229.91 257.66 L229.91 256.15 Q231.26 255.54 232.27 254.67 Q233.28 253.79 233.71 252.97 L234.78 252.97 Z"/>
<path d="M797.68 148.00 L796.06 148.00 L796.06 138.08 Q795.47 138.62 794.51 139.15 Q793.55 139.69 792.81 139.96 L792.81 138.45 Q794.16 137.84 795.17 136.97 Q796.18 136.09 796.61 135.27 L797.68 135.27 Z"/>
<path d="M861.28 223.00 L859.66 223.00 L859.66 213.08 Q859.07 213.62 858.11 214.15 Q857.15 214.69 856.41 214.96 L856.41 213.45 Q857.76 212.84 858.77 211.97 Q859.78 211.09 860.21 210.27 L861.28 210.27 Z"/>
<path d="M985.73 182.80 L984.80 182.80 L984.80 177.12 Q984.46 177.42 983.91 177.73 Q983.36 178.04 982.93 178.19 L982.93 177.33 Q983.71 176.98 984.29 176.48 Q984.87 175.98 985.11 175.51 L985.73 175.51 Z"/>
<path d="M1193.53 120.80 L1192.60 120.80 L1192.60 115.12 Q1192.26 115.42 1191.71 115.73 Q1191.16 116.04 1190.73 116.19 L1190.73 115.33 Q1191.51 114.98 1192.09 114.48 Q1192.67 113.98 1192.91 113.51 L1193.53 113.51 Z"/>
<path d="M1352.53 99.70 L1351.60 99.70 L1351.60 94.02 Q1351.26 94.32 1350.71 94.63 Q1350.16 94.94 1349.73 95.09 L1349.73 94.23 Q1350.51 93.88 1351.09 93.38 Q1351.67 92.88 1351.91 92.41 L1352.53 92.41 Z"/>
<path d="M1068.88 296.80 L1067.26 296.80 L1067.26 286.88 Q1066.67 287.42 1065.71 287.95 Q1064.75 288.49 1064.01 288.76 L1064.01 287.25 Q1065.36 286.64 1066.37 285.77 Q1067.38 284.89 1067.81 284.07 L1068.88 284.07 Z"/>
</g>
</svg>
</body></html>
